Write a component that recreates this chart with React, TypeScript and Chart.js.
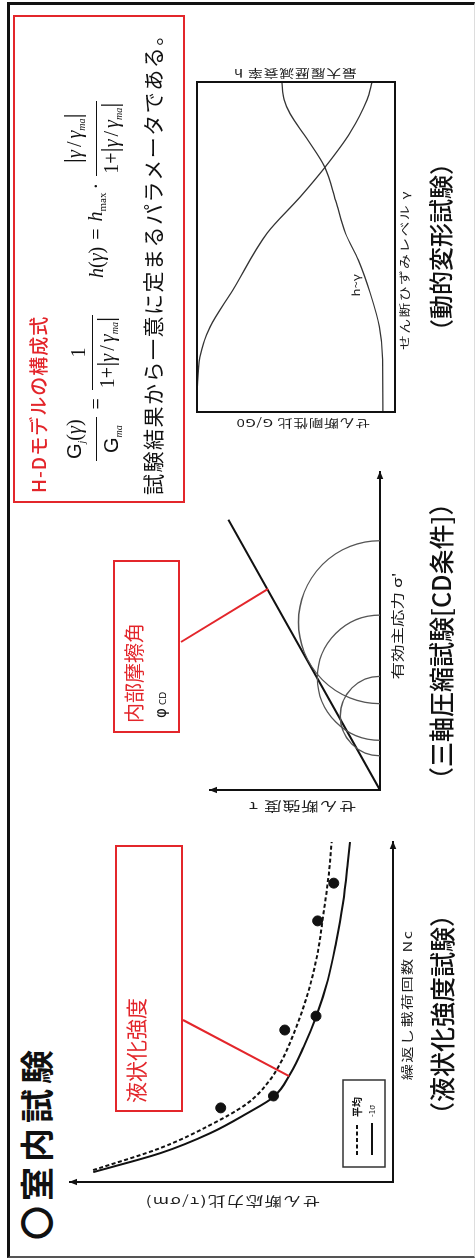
import React, { useEffect, useRef } from "react";
import { Chart, registerables } from "chart.js";

Chart.register(...registerables);

const JP = '"Noto Sans CJK JP", "Noto Sans", sans-serif';
const SERIF = '"Liberation Serif", "DejaVu Serif", serif';
const SANS = '"Liberation Sans", "DejaVu Sans", sans-serif';
const RED = "#e3262b";
const INK = "#111";
const GREY = "#333";
const LABEL = "#1c1c1c";

// ---------- 液状化強度試験 (liquefaction strength test) ----------
const liqCyclesMean = [3.5, 10, 16.8, 23.2, 29.1, 35, 43.8, 55.6, 67.4, 79.1, 90.9, 100];
const liqRatioMean = [0.557, 0.432, 0.339, 0.27, 0.233, 0.209, 0.184, 0.158, 0.14, 0.129, 0.119, 0.114];
const liqCyclesMinus = [2.9, 8.5, 14.4, 20.3, 25, 32, 39.7, 48.5, 59.4, 70.3, 82, 93.8, 100];
const liqRatioMinus = [0.557, 0.432, 0.339, 0.27, 0.222, 0.19, 0.166, 0.143, 0.121, 0.106, 0.093, 0.084, 0.08];
const liqTestCycles = [21.8, 25.3, 44.7, 48.8, 76.8, 87.9];
const liqTestRatio = [0.32, 0.222, 0.201, 0.143, 0.14, 0.11];
const liqLegendLabels = ["平均", "-1σ"];
const liqXTitle = "繰返し載荷回数 Nc";
const liqYTitle = "せん断応力比(τ/σm)";

// ---------- 三軸圧縮試験 (triaxial CD) ----------
const mohrSigma3 = [43, 62.5, 108.6];
const mohrSigma1 = [143, 220, 313.6];
const envelopeSigma = [0, 340];
const envelopeTau = [0, 191];
const triXTitle = "有効主応力 σ'";
const triYTitle = "せん断強度 τ";

// ---------- 動的変形試験 (H-D model) ----------
const hdStrainG = [1e-6, 2.4e-6, 6.8e-6, 1.95e-5, 7.1e-5, 5.1e-4, 1.8e-3, 5.1e-3, 1.7e-2, 5.4e-2, 1e-1];
const hdRatioG = [1.0, 0.998, 0.985, 0.934, 0.818, 0.646, 0.48, 0.354, 0.227, 0.141, 0.116];
const hdStrainH = [1e-6, 6.2e-6, 1.96e-5, 6.3e-5, 2e-4, 5.1e-4, 1.6e-3, 5.1e-3, 1.4e-2, 3.3e-2, 5.4e-2, 1e-1];
const hdRatioH = [0.061, 0.062, 0.079, 0.125, 0.185, 0.25, 0.3, 0.354, 0.446, 0.53, 0.56, 0.571];
const hdXTitle = "せん断ひずみレベル γ";
const hdYTitle = "せん断剛性比 G/G0";
const hdY2Title = "最大履歴減衰率 h";
const hdCurveLabel = "h~γ";
const hdCurveLabelAt = [8.3e-5, 0.2];

const pts = (xs: number[], ys: number[]) => xs.map((x, i) => ({ x, y: ys[i] }));

function drawLabel(ctx: any, text: string, x: number, y: number, o: any) {
  ctx.save();
  ctx.translate(x, y);
  if (o.rotate) ctx.rotate(o.rotate);
  if (o.sx) ctx.scale(o.sx, 1);
  ctx.font = `${o.weight || "normal"} ${o.size}px ${o.family || JP}`;
  ctx.letterSpacing = `${o.spacing || 0}px`;
  ctx.fillStyle = o.color || LABEL;
  ctx.textAlign = o.align || "center";
  ctx.textBaseline = "middle";
  ctx.fillText(text, 0, 0);
  ctx.restore();
}

const bareAxis = (min: number, max: number, type = "linear", border = true) => ({
  type,
  min,
  max,
  display: true,
  grid: { display: false, drawTicks: false },
  ticks: { display: false },
  border: { display: border, color: INK, width: 2 },
});

const axisArrows = {
  id: "axisArrows",
  afterDraw(chart: any) {
    const { ctx, chartArea: a } = chart;
    const L = 8;
    const W = 3.2;
    ctx.save();
    ctx.fillStyle = INK;
    ctx.beginPath();
    ctx.moveTo(a.right + 1, a.bottom);
    ctx.lineTo(a.right + 1 - L, a.bottom - W);
    ctx.lineTo(a.right + 1 - L, a.bottom + W);
    ctx.closePath();
    ctx.fill();
    ctx.beginPath();
    ctx.moveTo(a.left, a.top - 1);
    ctx.lineTo(a.left - W, a.top - 1 + L);
    ctx.lineTo(a.left + W, a.top - 1 + L);
    ctx.closePath();
    ctx.fill();
    ctx.restore();
  },
};

const liqLabels = {
  id: "liqLabels",
  afterDraw(chart: any) {
    const { ctx, chartArea: a } = chart;
    drawLabel(ctx, liqXTitle, a.left + 177, a.bottom + 14, { size: 12, spacing: 1, sx: 1.35 });
    drawLabel(ctx, liqYTitle, a.left - 20, a.top + 162, { size: 13, spacing: 1, sx: 1.35, rotate: -Math.PI / 2 });
    const bx = a.left + 15;
    const by = a.bottom - 50;
    ctx.save();
    ctx.strokeStyle = GREY;
    ctx.lineWidth = 1.5;
    ctx.strokeRect(bx, by, 87, 42);
    const ds = chart.data.datasets;
    [0, 1].forEach((i) => {
      const y = by + 14 + i * 15;
      ctx.beginPath();
      ctx.setLineDash(ds[i].borderDash || []);
      ctx.lineWidth = 2;
      ctx.strokeStyle = INK;
      ctx.moveTo(bx + 12, y);
      ctx.lineTo(bx + 44, y);
      ctx.stroke();
      ctx.setLineDash([]);
      drawLabel(ctx, liqLegendLabels[i], bx + 50, y, {
        size: i === 0 ? 10 : 8,
        weight: i === 0 ? "bold" : "normal",
        align: "left",
        color: INK,
      });
    });
    ctx.restore();
  },
};

const mohrCircles = {
  id: "mohrCircles",
  afterDatasetsDraw(chart: any) {
    const { ctx, scales } = chart;
    const x = scales.x;
    const y = scales.y;
    ctx.save();
    ctx.strokeStyle = "#555";
    ctx.lineWidth = 1.3;
    mohrSigma3.forEach((s3, i) => {
      const s1 = mohrSigma1[i];
      const cx = x.getPixelForValue((s1 + s3) / 2);
      const r = x.getPixelForValue(s1) - cx;
      const cy = y.getPixelForValue(0);
      ctx.beginPath();
      ctx.arc(cx, cy, r, Math.PI, 2 * Math.PI);
      ctx.stroke();
    });
    ctx.restore();
  },
  afterDraw(chart: any) {
    const { ctx, chartArea: a } = chart;
    drawLabel(ctx, triXTitle, a.left + 164, a.bottom + 17, { size: 13, spacing: 0, sx: 1.35 });
    drawLabel(ctx, triYTitle, a.left - 17, a.top + 92, { size: 13, spacing: 0.8, sx: 1.35, rotate: -Math.PI / 2 });
  },
};

const hdFrame = {
  id: "hdFrame",
  afterDraw(chart: any) {
    const { ctx, chartArea: a, scales } = chart;
    ctx.save();
    ctx.strokeStyle = INK;
    ctx.lineWidth = 2;
    ctx.strokeRect(a.left, a.top, a.right - a.left, a.bottom - a.top);
    ctx.restore();
    drawLabel(ctx, hdXTitle, a.left + 142, a.bottom + 10, { size: 11, spacing: 1, sx: 1.35 });
    drawLabel(ctx, hdYTitle, a.left - 11, a.top + 106, { size: 11, spacing: 0.5, sx: 1.35, rotate: -Math.PI / 2 });
    drawLabel(ctx, hdY2Title, a.right + 9, a.top + 98, { size: 11, spacing: 0.6, sx: 1.35, rotate: -Math.PI / 2 });
    drawLabel(
      ctx,
      hdCurveLabel,
      scales.x.getPixelForValue(hdCurveLabelAt[0]),
      scales.y.getPixelForValue(hdCurveLabelAt[1]),
      { size: 11, sx: 1.2 }
    );
  },
};

const baseOptions = (padding: any, scales: any) => ({
  animation: false,
  responsive: false,
  devicePixelRatio: 1,
  layout: { padding },
  plugins: { legend: { display: false }, tooltip: { enabled: false } },
  scales,
});

const liqConfig = () => ({
  type: "line",
  data: {
    datasets: [
      {
        label: liqLegendLabels[0],
        data: pts(liqCyclesMean, liqRatioMean),
        borderColor: INK,
        borderWidth: 2,
        borderDash: [4, 2.5],
        pointRadius: 0,
        cubicInterpolationMode: "monotone",
      },
      {
        label: liqLegendLabels[1],
        data: pts(liqCyclesMinus, liqRatioMinus),
        borderColor: INK,
        borderWidth: 2,
        pointRadius: 0,
        cubicInterpolationMode: "monotone",
      },
      {
        label: "試験結果",
        data: pts(liqTestCycles, liqTestRatio),
        showLine: false,
        pointRadius: 5,
        pointBackgroundColor: INK,
        pointBorderColor: INK,
      },
    ],
  },
  options: baseOptions(
    { left: 47, right: 13, top: 15, bottom: 42 },
    { x: bareAxis(0, 100), y: bareAxis(0, 0.6) }
  ),
  plugins: [axisArrows, liqLabels],
});

const triConfig = () => ({
  type: "line",
  data: {
    datasets: [
      {
        label: "破壊包絡線",
        data: pts(envelopeSigma, envelopeTau),
        borderColor: INK,
        borderWidth: 2,
        pointRadius: 0,
      },
    ],
  },
  options: baseOptions(
    { left: 49, right: 23, top: 15, bottom: 45 },
    { x: bareAxis(0, 400), y: bareAxis(0, 214) }
  ),
  plugins: [axisArrows, mohrCircles],
});

const hdConfig = () => ({
  type: "line",
  data: {
    datasets: [
      {
        label: "G/G0",
        data: pts(hdStrainG, hdRatioG),
        borderColor: GREY,
        borderWidth: 1.3,
        pointRadius: 0,
        cubicInterpolationMode: "monotone",
      },
      {
        label: "h",
        data: pts(hdStrainH, hdRatioH),
        borderColor: GREY,
        borderWidth: 1.3,
        pointRadius: 0,
        cubicInterpolationMode: "monotone",
      },
    ],
  },
  options: baseOptions(
    { left: 47, right: 43, top: 17, bottom: 25 },
    { x: bareAxis(1e-6, 1e-1, "logarithmic", false), y: bareAxis(0, 1, "linear", false) }
  ),
  plugins: [hdFrame],
});

function ChartCanvas({ left, top, width, height, config }: any) {
  const ref = useRef<HTMLCanvasElement | null>(null);
  useEffect(() => {
    if (!ref.current) return;
    const chart = new Chart(ref.current, config() as any);
    return () => chart.destroy();
  }, []);
  return (
    <canvas
      ref={ref}
      width={width}
      height={height}
      style={{ position: "absolute", left, top, width, height }}
    />
  );
}

function Txt({ x, y, size, color = INK, weight = 400, spacing = 0, family = JP, children }: any) {
  return (
    <div
      style={{
        position: "absolute",
        left: x,
        top: y - size * 0.65,
        fontSize: size,
        lineHeight: `${size * 1.3}px`,
        color,
        fontWeight: weight,
        letterSpacing: spacing,
        fontFamily: family,
        whiteSpace: "nowrap",
      }}
    >
      {children}
    </div>
  );
}

function RedBox({ x, y, w, h }: any) {
  return (
    <div
      style={{
        position: "absolute",
        left: x,
        top: y,
        width: w,
        height: h,
        boxSizing: "border-box",
        border: `2px solid ${RED}`,
      }}
    />
  );
}

function Connector({ x1, y1, x2, y2 }: any) {
  const dx = x2 - x1;
  const dy = y2 - y1;
  const len = Math.hypot(dx, dy);
  const ang = (Math.atan2(dy, dx) * 180) / Math.PI;
  return (
    <div
      style={{
        position: "absolute",
        left: x1,
        top: y1 - 1,
        width: len,
        height: 2,
        background: RED,
        transformOrigin: "0 50%",
        transform: `rotate(${ang}deg)`,
      }}
    />
  );
}

function Frac({ num, den }: any) {
  return (
    <span style={{ display: "inline-flex", flexDirection: "column", alignItems: "stretch", margin: "0 4px" }}>
      <span style={{ textAlign: "center", borderBottom: "1.5px solid #111", padding: "0 2px 1px", lineHeight: "26px" }}>
        {num}
      </span>
      <span style={{ textAlign: "center", padding: "1px 2px 0", lineHeight: "26px" }}>{den}</span>
    </span>
  );
}

const bar = { fontSize: 26, lineHeight: "20px", fontStyle: "normal" as const };
const sub = { fontSize: 10, fontStyle: "italic" as const, verticalAlign: "-4px" };

function Abs() {
  return (
    <span>
      <span style={bar}>|</span>
      <i>γ</i>
      <span style={{ margin: "0 3px" }}>/</span>
      <i>γ</i>
      <span style={sub}>ma</span>
      <span style={bar}>|</span>
    </span>
  );
}

export default function App() {
  return (
    <div style={{ position: "absolute", left: 0, top: 0, width: 475, height: 1259, overflow: "hidden", background: "#fff" }}>
      <div
        style={{
          position: "absolute",
          left: 0,
          top: 0,
          width: 1259,
          height: 475,
          transformOrigin: "0 0",
          transform: "translate(0px, 1259px) rotate(-90deg)",
          fontFamily: JP,
          color: INK,
          background: "#fff",
        }}
      >
        <div
          style={{
            position: "absolute",
            left: 1,
            top: 7,
            width: 1256,
            height: 468,
            boxSizing: "border-box",
            borderTop: "3px solid #111",
            borderRight: "3px solid #111",
            borderLeft: "2px solid #555",
            borderBottom: "1px solid #ddd",
          }}
        />

        <Txt x={19} y={36} size={34} weight={700} spacing={5}>〇室内試験</Txt>

        <ChartCanvas left={30} top={55} width={400} height={380} config={liqConfig} />
        <ChartCanvas left={420} top={195} width={390} height={230} config={triConfig} />
        <ChartCanvas left={800} top={180} width={420} height={240} config={hdConfig} />

        <Txt x={132} y={441} size={25} weight={500}>（液状化強度試験）</Txt>
        <Txt x={467} y={440} size={25} weight={500}>（三軸圧縮試験[CD条件]）</Txt>
        <Txt x={916} y={440} size={24} weight={500}>（動的変形試験）</Txt>

        <RedBox x={147} y={115} w={267} h={68} />
        <Txt x={156} y={136} size={21} color={RED}>液状化強度</Txt>
        <Connector x1={239} y1={183} x2={183} y2={289} />

        <RedBox x={526} y={113} w={173} h={67} />
        <Txt x={536} y={134} size={20} color={RED}>内部摩擦角</Txt>
        <Txt x={541} y={162} size={15} family={'"DejaVu Sans", sans-serif'}>
          φ<span style={{ fontSize: 9, marginLeft: 3 }}>CD</span>
        </Txt>
        <Connector x1={617} y1={181} x2={670} y2={268} />

        <RedBox x={756} y={13} w={488} h={172} />
        <Txt x={766} y={38} size={19} color={RED} weight={500} spacing={1}>H-Dモデルの構成式</Txt>
        <div
          style={{
            position: "absolute",
            left: 794,
            top: 60,
            height: 72,
            display: "flex",
            alignItems: "center",
            fontFamily: SERIF,
            fontSize: 20,
            whiteSpace: "nowrap",
          }}
        >
          <Frac
            num={
              <span>
                <span style={{ fontFamily: SANS }}>G</span>
                <span style={sub}>j</span>(<i>γ</i>)
              </span>
            }
            den={
              <span>
                <span style={{ fontFamily: SANS }}>G</span>
                <span style={sub}>ma</span>
              </span>
            }
          />
          <span style={{ margin: "0 4px" }}>=</span>
          <Frac
            num="1"
            den={
              <span>
                1+<Abs />
              </span>
            }
          />
        </div>
        <div
          style={{
            position: "absolute",
            left: 981,
            top: 60,
            height: 72,
            display: "flex",
            alignItems: "center",
            fontFamily: SERIF,
            fontSize: 20,
            whiteSpace: "nowrap",
          }}
        >
          <span>
            <i>h</i>(<i>γ</i>)
          </span>
          <span style={{ margin: "0 7px" }}>=</span>
          <span>
            <i>h</i>
            <span style={{ fontSize: 11, verticalAlign: "-4px" }}>max</span>
          </span>
          <span style={{ margin: "0 3px" }}>·</span>
          <Frac
            num={<Abs />}
            den={
              <span>
                1+<Abs />
              </span>
            }
          />
        </div>
        <Txt x={764} y={153} size={21} spacing={1.5}>試験結果から一意に定まるパラメータである。</Txt>
      </div>
    </div>
  );
}
